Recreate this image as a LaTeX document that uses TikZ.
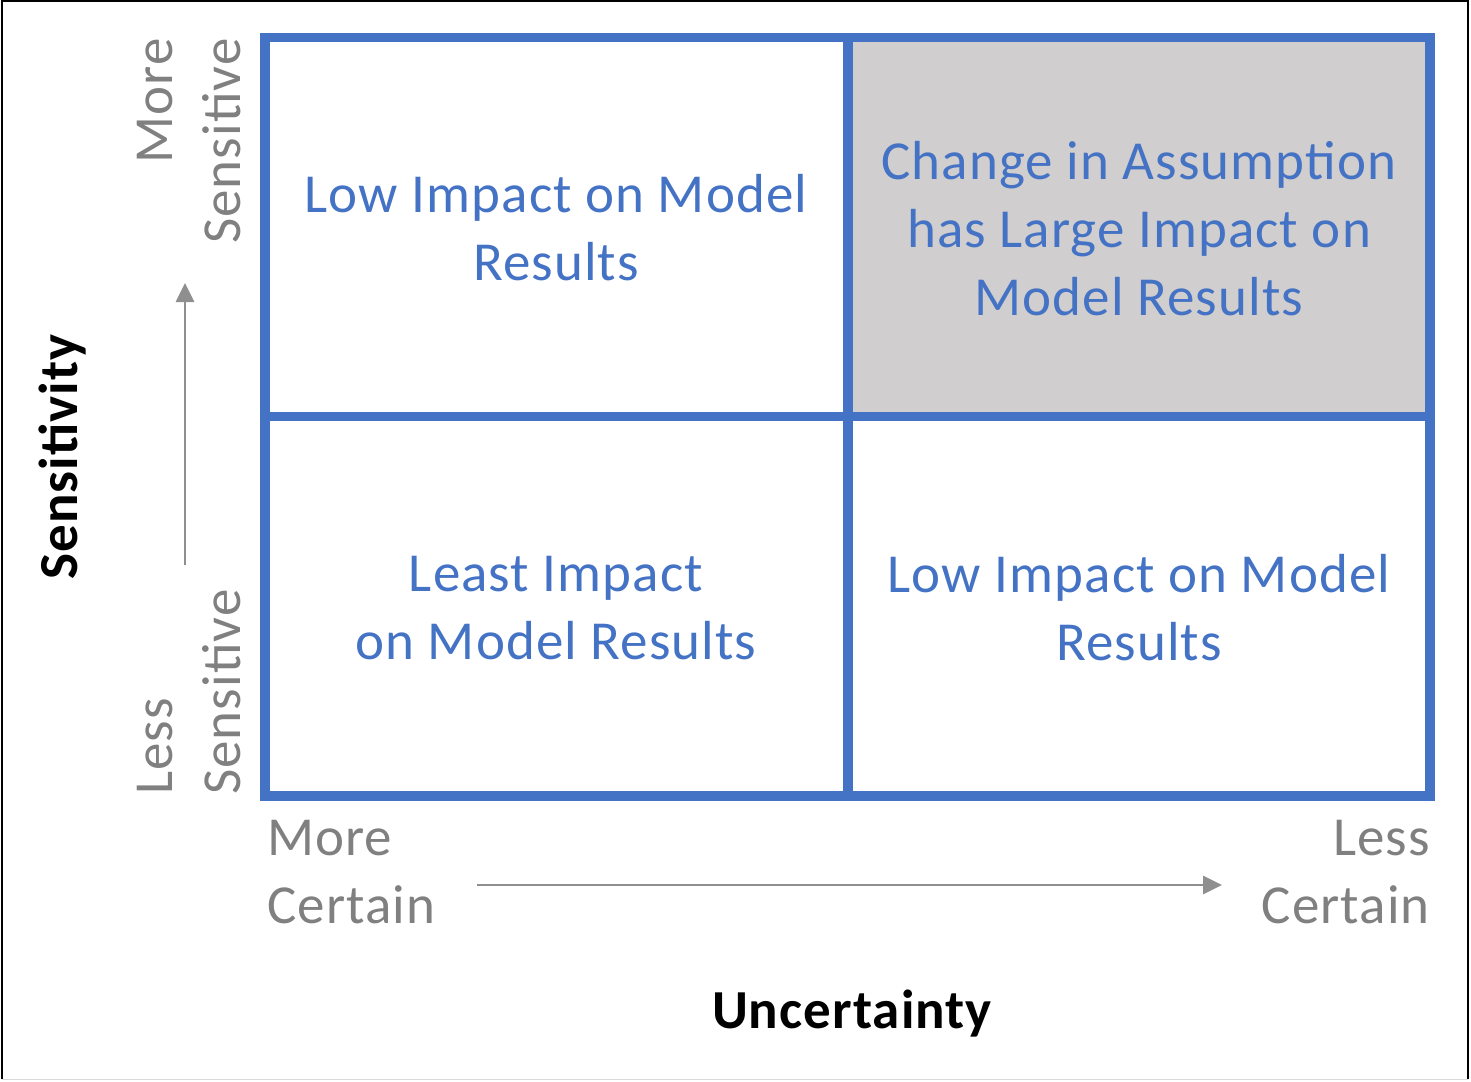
\documentclass[tikz,border=0pt]{standalone}
\usepackage{fontspec}
\setmainfont{Carlito}[LetterSpace=2]
\usetikzlibrary{arrows.meta}
\definecolor{gridblue}{HTML}{4472C4}
\definecolor{cellgray}{HTML}{D0CECE}
\definecolor{labelgray}{HTML}{808080}
\definecolor{arrowgray}{HTML}{8F8F8F}
\tikzset{
  celltext/.style={text=gridblue, align=center, inner sep=0pt, font=\fontsize{55}{68}\selectfont},
  axtext/.style={text=labelgray, inner sep=0pt, font=\fontsize{55}{68}\selectfont},
  axtitle/.style={text=black, inner sep=0pt, font=\bfseries\fontsize{55}{68}\selectfont},
  gridline/.style={draw=gridblue, line width=9.5pt},
  axarrow/.style={draw=arrowgray, line width=2.7pt, -{Triangle[length=19pt,width=18pt]}},
}
\begin{document}
\begin{tikzpicture}[x=1pt,y=-1pt]
\useasboundingbox (0,0) rectangle (1471,1081);
% frame of the image
\draw[black, line width=2pt] (2,1079) -- (2,0.8) -- (1468,0.8) -- (1468,1079);
\draw[black!15, line width=1.5pt] (2,1079.5) -- (1468,1079.5);
% grid
\coordinate (tl) at (265,37.5);
\coordinate (br) at (1430,796);
\coordinate (mid) at (848,416.5);
\fill[cellgray] (848,37.5) rectangle (1430,416.5);
\draw[gridline] (tl) rectangle (br);
\draw[gridline] (848,37.5) -- (848,796);
\draw[gridline] (265,416.5) -- (1430,416.5);
% cell texts
\node[celltext] (c11) at (556,228) {Low Impact on Model\\Results};
\node[celltext] (c12) at (1139,229) {Change in Assumption\\has Large Impact on\\Model Results};
\node[celltext] (c21) at (556,608) {Least Impact\\on Model Results};
\node[celltext] (c22) at (1139,608) {Low Impact on Model\\Results};
% vertical axis labels
\node[axtext, rotate=90, anchor=base east] (ms1) at (172,38) {More};
\node[axtext, rotate=90, anchor=base east] (ms2) at (240,38) {Sensitive};
\node[axtext, rotate=90, anchor=base west] (ls1) at (172,795) {Less};
\node[axtext, rotate=90, anchor=base west] (ls2) at (240,795) {Sensitive};
\node[axtitle, rotate=90, anchor=base] (sens) at (77,457) {Sensitivity};
% horizontal axis labels
\node[axtext, anchor=base west] (mc1) at (267,855) {More};
\node[axtext, anchor=base west] (mc2) at (267,923) {Certain};
\node[axtext, anchor=base east] (lc1) at (1430,855) {Less};
\node[axtext, anchor=base east] (lc2) at (1430,923) {Certain};
\node[axtitle, anchor=base] (unc) at (852,1028) {Uncertainty};
% arrows
\coordinate (va) at (185,565);
\coordinate (vb) at (185,283);
\coordinate (ha) at (477,885);
\coordinate (hb) at (1222,885);
\draw[axarrow] (va) -- (vb);
\draw[axarrow] (ha) -- (hb);
\end{tikzpicture}
\end{document}
